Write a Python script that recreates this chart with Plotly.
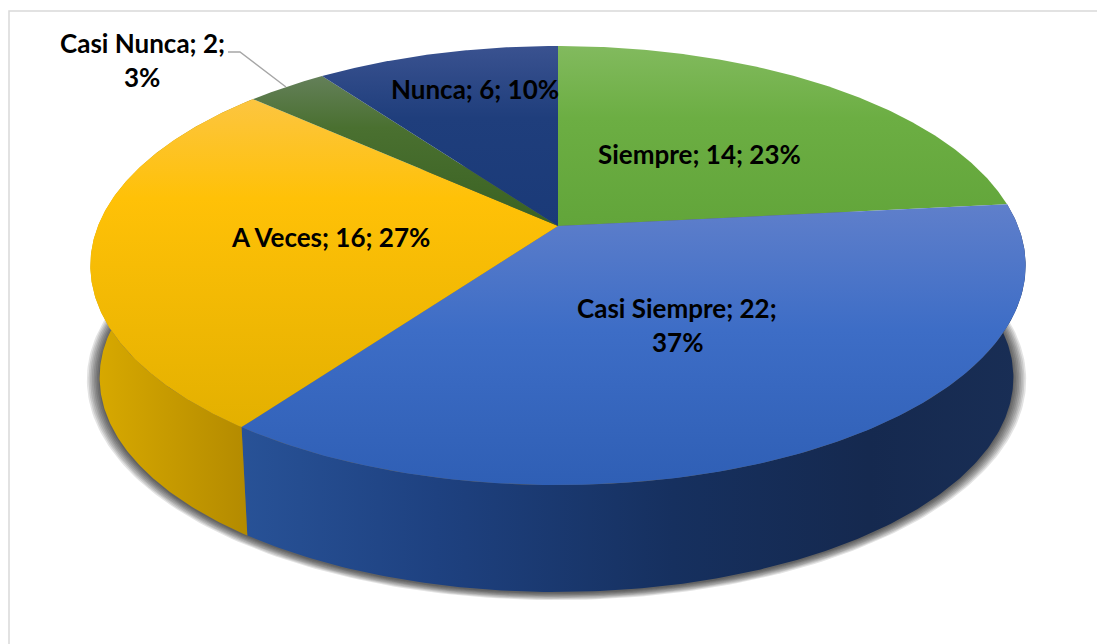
import math
import numpy as np
import plotly.graph_objects as go

# Data
categories = ["Siempre", "Casi Siempre", "A Veces", "Casi Nunca", "Nunca"]
values = [14, 22, 16, 2, 6]
percents = [23, 37, 27, 3, 10]

# Style
top_grad = [
    [[0, "#82BA5E"], [0.4, "#6CAE43"], [1, "#62A53A"]],
    [[0, "#5F7FCB"], [0.45, "#3D6DC6"], [1, "#2F5FB5"]],
    [[0, "#FCC540"], [0.3, "#FFC107"], [1, "#E3B000"]],
    [[0, "#64805A"], [0.35, "#4A7030"], [1, "#3A6222"]],
    [[0, "#3A5290"], [0.4, "#1F3E7C"], [1, "#1A3A78"]],
]
top_span = [(46, 226), (205, 485), (100, 428), (75, 226), (46, 226)]
side_grad = {
    1: [[0, "#285297"], [0.25, "#1E4180"], [0.55, "#16305F"], [0.8, "#15294F"], [1, "#192E55"]],
    2: [[0, "#D9AA00"], [1, "#B38A00"]],
}
side_span = {1: (241, 1026), 2: (90, 250)}

CX, CY, A, B, K = 558.0, 226.0, 460.0, 212.4, 0.18
S = 0.977
CX_BOT = 556.5
CY_BOT = 592 - S * 259


def rim(theta, cx=CX, cy=CY, s=1.0):
    u, v = np.sin(theta), np.cos(theta)
    d = 1 + K * v
    return cx + s * A * u / d, cy - s * B * v / d


fig = go.Figure()
total = sum(values)
edges = np.cumsum([0] + values) / total * 2 * math.pi

# soft shadow beneath the disc
full = np.linspace(0, 2 * math.pi, 361)
for e in np.linspace(1.002, 1.028, 8):
    x, y = rim(full, CX_BOT, CY_BOT + 1, S * e)
    fig.add_trace(go.Scatter(x=x, y=y, mode="lines", line=dict(width=0), fill="toself",
                             fillcolor="rgba(0,0,0,0.11)", hoverinfo="skip"))

# side walls (front slices)
for i in side_grad:
    th = np.linspace(edges[i], edges[i + 1], 180)
    xt, yt = rim(th)
    xb, yb = rim(th, CX_BOT, CY_BOT, S)
    fig.add_trace(go.Scatter(
        x=np.r_[xt, xb[::-1]], y=np.r_[yt, yb[::-1]], mode="lines", line=dict(width=0),
        fill="toself", hoverinfo="skip",
        fillgradient=dict(type="horizontal", colorscale=side_grad[i],
                          start=side_span[i][0], stop=side_span[i][1])))

# top wedges
for i in range(len(values)):
    th = np.linspace(edges[i], edges[i + 1], 200)
    xt, yt = rim(th)
    fig.add_trace(go.Scatter(
        x=np.r_[CX, xt, CX], y=np.r_[CY, yt, CY], mode="lines", line=dict(width=0),
        fill="toself", hoverinfo="skip",
        fillgradient=dict(type="vertical", colorscale=top_grad[i],
                          start=top_span[i][0], stop=top_span[i][1])))

# leader line
fig.add_trace(go.Scatter(x=[228, 240, 286], y=[52, 52, 87], mode="lines",
                         line=dict(color="#A6A6A6", width=1.4), hoverinfo="skip"))

# labels
FONT = dict(family="Lato", size=26, color="black", weight="bold")
label_pos = [(699, 154), (677, 308), (330, 237), (142, 43), (475, 89)]
breaks = {1, 3}
for i, c in enumerate(categories):
    lx, ly = label_pos[i]
    if i in breaks:
        parts = [f"{c}; {values[i]};", f"{percents[i]}%"]
    else:
        parts = [f"{c}; {values[i]}; {percents[i]}%"]
    for j, t in enumerate(parts):
        fig.add_annotation(x=lx, y=ly + j * 33.5, text=t, showarrow=False, font=FONT,
                           xanchor="center", yanchor="middle")

# chart frame
fig.add_shape(type="path", path="M 9 644 L 9 11 L 1097 11", line=dict(color="#D9D9D9", width=1.5),
              xref="x", yref="y")

fig.update_layout(
    width=1097, height=644, margin=dict(l=0, r=0, t=0, b=0), showlegend=False,
    paper_bgcolor="white", plot_bgcolor="white",
    xaxis=dict(range=[0, 1097], visible=False),
    yaxis=dict(range=[644, 0], visible=False),
)
fig.write_html("out.html", config=dict(displayModeBar=False),
               post_script="document.body.style.margin='0';")
